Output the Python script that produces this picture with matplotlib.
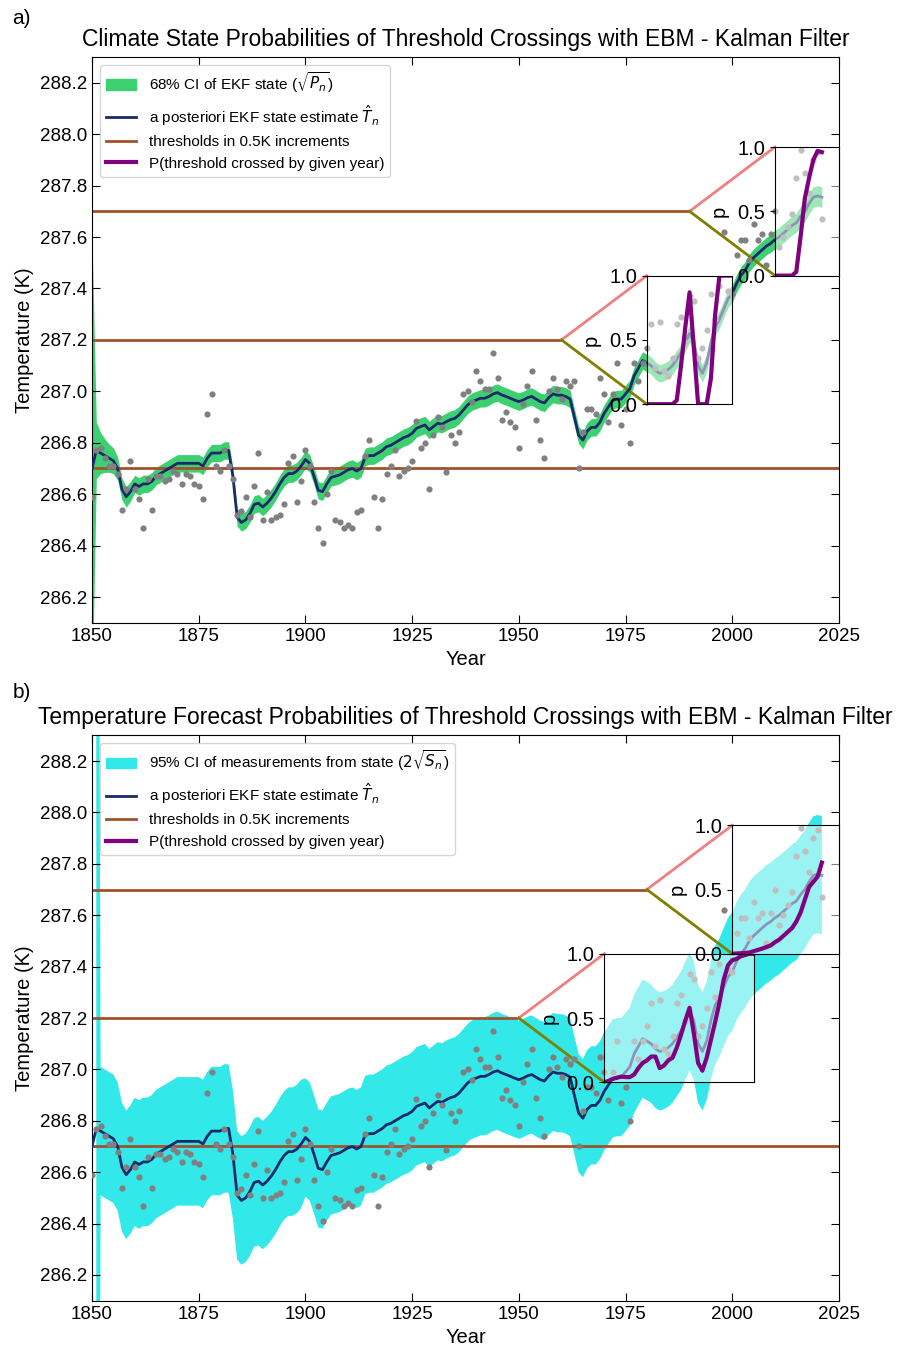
import numpy as np
import matplotlib.pyplot as plt
from matplotlib.patches import Patch
from matplotlib.lines import Line2D

plt.rcParams['font.family'] = ['Liberation Sans', 'DejaVu Sans']
plt.rcParams['mathtext.fontset'] = 'dejavusans'

# yearly global mean temperature (K), 1850-2021
years = np.arange(1850, 2022)
obs = [
    286.59, 286.77, 286.78, 286.74, 286.71, 286.71, 286.68, 286.54, 286.62, 286.73,
    286.62, 286.58, 286.47, 286.66, 286.54, 286.67, 286.67, 286.65, 286.66, 286.69,
    286.68, 286.64, 286.68, 286.67, 286.64, 286.63, 286.58, 286.91, 286.99, 286.71,
    286.69, 286.77, 286.71, 286.66, 286.52, 286.535, 286.59, 286.51, 286.63, 286.76,
    286.50, 286.61, 286.50, 286.51, 286.52, 286.56, 286.72, 286.75, 286.57, 286.65,
    286.77, 286.71, 286.57, 286.47, 286.41, 286.60, 286.69, 286.50, 286.49, 286.47,
    286.48, 286.47, 286.53, 286.54, 286.75, 286.81, 286.59, 286.47, 286.58, 286.68,
    286.71, 286.77, 286.67, 286.69, 286.70, 286.73, 286.885, 286.78, 286.80, 286.62,
    286.83, 286.90, 286.86, 286.685, 286.83, 286.80, 286.84, 286.99, 287.00, 286.96,
    287.08, 287.04, 287.01, 287.01, 287.15, 287.05, 286.89, 286.92, 286.88, 286.86,
    286.78, 286.95, 287.02, 287.08, 286.89, 286.81, 286.74, 287.00, 287.05, 287.01,
    286.97, 287.04, 287.02, 287.04, 286.70, 286.84, 286.93, 286.93, 286.91, 287.05,
    286.99, 286.88, 286.99, 287.11, 286.87, 286.93, 286.80, 287.11, 287.04, 287.11,
    287.17, 287.26, 287.09, 287.27, 287.08, 287.06, 287.13, 287.26, 287.29, 287.19,
    287.37, 287.35, 287.13, 287.17, 287.24, 287.38, 287.28, 287.41, 287.62, 287.39,
    287.38, 287.53, 287.59, 287.59, 287.51, 287.65, 287.59, 287.61, 287.49, 287.61,
    287.70, 287.56, 287.60, 287.64, 287.69, 287.83, 287.94, 287.85, 287.77, 287.90,
    287.93, 287.67,
]

# a posteriori EKF state estimate
state = [
    286.70, 286.77, 286.76, 286.75, 286.74, 286.73, 286.70, 286.62, 286.59, 286.61,
    286.64, 286.63, 286.64, 286.64, 286.65, 286.67, 286.68, 286.69, 286.70, 286.71,
    286.72, 286.72, 286.72, 286.72, 286.72, 286.72, 286.71, 286.74, 286.76, 286.76,
    286.76, 286.77, 286.77, 286.67, 286.51, 286.49, 286.50, 286.525, 286.56, 286.565,
    286.55, 286.565, 286.585, 286.61, 286.64, 286.665, 286.68, 286.68, 286.69, 286.71,
    286.735, 286.72, 286.67, 286.615, 286.61, 286.64, 286.665, 286.67, 286.675, 286.685,
    286.695, 286.70, 286.69, 286.70, 286.745, 286.75, 286.75, 286.76, 286.77, 286.785,
    286.79, 286.80, 286.81, 286.82, 286.826, 286.837, 286.856, 286.863, 286.869, 286.85,
    286.863, 286.876, 286.872, 286.882, 286.89, 286.895, 286.908, 286.928, 286.947, 286.96,
    286.966, 286.973, 286.973, 286.98, 286.99, 286.995, 286.986, 286.98, 286.973, 286.966,
    286.96, 286.966, 286.975, 286.98, 286.97, 286.96, 286.955, 286.975, 286.99, 286.985,
    286.985, 286.98, 286.97, 286.90, 286.83, 286.81, 286.845, 286.86, 286.86, 286.88,
    286.915, 286.94, 286.965, 286.97, 286.97, 286.99, 287.01, 287.06, 287.09, 287.12,
    287.11, 287.10, 287.08, 287.07, 287.075, 287.085, 287.10, 287.125, 287.15, 287.19,
    287.225, 287.19, 287.10, 287.07, 287.11, 287.19, 287.25, 287.28, 287.32, 287.36,
    287.38, 287.42, 287.45, 287.47, 287.50, 287.52, 287.535, 287.55, 287.565, 287.575,
    287.59, 287.60, 287.615, 287.63, 287.645, 287.655, 287.68, 287.70, 287.73, 287.755,
    287.76, 287.755,
]

# sqrt(P_n): 1-sigma of the state
sd_state = ([0.90, 0.11, 0.08, 0.065, 0.055, 0.05, 0.045, 0.042, 0.04, 0.038]
            + [0.034] * 150 + [0.037] * 6 + [0.040] * 6)

# 2*sqrt(S_n): 95% of the measurement forecast (no forecast for the first year)
ci_meas = [np.nan, 6.0] + [0.25] * 48 + [0.23] * 122

thresholds = [286.7, 287.2, 287.7]

# P(threshold crossed by given year) per panel: (threshold, years, probabilities)
p_state = [
    (287.2, np.arange(1980, 2001),
     [0, 0, 0, 0, 0, 0, 0, 0.03, 0.30, 0.60, 0.87, 0.44, 0.0, 0.0, 0.0, 0.20, 0.70, 1.0, 1.0, 1.0, 1.0]),
    (287.7, np.arange(2010, 2022),
     [0, 0, 0, 0, 0, 0.03, 0.30, 0.60, 0.76, 0.90, 0.97, 0.96]),
]
p_meas = [
    (287.2, np.arange(1970, 2006),
     [0.0, 0.01, 0.026, 0.035, 0.044, 0.04, 0.04, 0.06, 0.11, 0.15, 0.17, 0.20, 0.20, 0.11,
      0.13, 0.17, 0.19, 0.27, 0.37, 0.48, 0.58, 0.38, 0.15, 0.09, 0.19, 0.33, 0.47, 0.62,
      0.80, 0.91, 0.95, 0.96, 0.98, 0.99, 1.0, 1.0]),
    (287.7, np.arange(2000, 2022),
     [0.0, 0.002, 0.004, 0.006, 0.01, 0.02, 0.03, 0.04, 0.052, 0.065, 0.09, 0.11, 0.14,
      0.17, 0.20, 0.25, 0.32, 0.42, 0.52, 0.56, 0.60, 0.71]),
]

# where each threshold line stops and where its inset sits (start, end year)
layout_a = {287.2: (1960, 1980, 2000), 287.7: (1990, 2010, 2025)}
layout_b = {287.2: (1950, 1970, 2005), 287.7: (1980, 2000, 2025)}

obs = np.array(obs)
state = np.array(state)
sd_state = np.array(sd_state)
ci_meas = np.array(ci_meas)

fig = plt.figure(figsize=(8.97, 13.48), dpi=100)
ax_a = fig.add_axes([0.1026, 0.538, 0.8327, 0.4197])
ax_b = fig.add_axes([0.1026, 0.0351, 0.8327, 0.4194])


def draw_panel(ax, lo, hi, band_color, band_label, layout, probs, title):
    ax.fill_between(years, lo, hi, color=band_color, lw=0, zorder=1)
    ax.plot(years, state, color='#1b2a6b', lw=2, zorder=3)
    ax.scatter(years, obs, s=20, color='gray', zorder=4, linewidths=0)

    for thr in thresholds:
        if thr in layout:
            x_from, x0, x1 = layout[thr]
        else:
            x_from = 2025
        ax.plot([1850, x_from], [thr, thr], color='sienna', lw=2, zorder=2)

    for thr, py, pv in probs:
        x_from, x0, x1 = layout[thr]
        ax.plot([x_from, x0], [thr, thr + 0.25], color='lightcoral', lw=2, zorder=2)
        ax.plot([x_from, x0], [thr, thr - 0.25], color='olive', lw=2, zorder=2)
        ins = ax.inset_axes([x0, thr - 0.25, x1 - x0, 0.5], transform=ax.transData)
        ins.set_facecolor((1, 1, 1, 0.5))
        ins.plot(py, pv, color='purple', lw=3)
        ins.set_xlim(x0, x1)
        ins.set_ylim(0, 1)
        ins.set_xticks([])
        ins.set_yticks([0, 0.5, 1.0])
        ins.set_yticklabels(['0.0', '0.5', '1.0'])
        ins.tick_params(labelsize=14.5)
        ins.set_ylabel('p', fontsize=14.5, labelpad=6)

    ax.set_xlim(1850, 2025)
    ax.set_ylim(286.1, 288.3)
    ax.set_xticks(np.arange(1850, 2026, 25))
    ax.set_yticks(np.arange(286.2, 288.21, 0.2))
    ax.set_yticklabels([f'{v:.1f}' for v in np.arange(286.2, 288.21, 0.2)])
    ax.tick_params(direction='in', top=True, right=True, labelsize=13.5, length=6)
    ax.set_xlabel('Year', fontsize=14.5)
    ax.set_ylabel('Temperature (K)', fontsize=14.5)
    ax.set_title(title, fontsize=16.5, pad=8)

    handles = [
        Patch(color=band_color, label=band_label),
        Line2D([], [], color='#1b2a6b', lw=2, label=r'a posteriori EKF state estimate $\hat{T}_n$'),
        Line2D([], [], color='sienna', lw=2, label='thresholds in 0.5K increments'),
        Line2D([], [], color='purple', lw=3, label='P(threshold crossed by given year)'),
    ]
    ax.legend(handles=handles, loc='upper left', fontsize=11)


draw_panel(ax_a, state - sd_state, state + sd_state, '#3dd070',
           r'68% CI of EKF state ($\sqrt{P_n}$)', layout_a, p_state,
           'Climate State Probabilities of Threshold Crossings with EBM - Kalman Filter')
draw_panel(ax_b, state - ci_meas, state + ci_meas, '#33e8e8',
           r'95% CI of measurements from state ($2\sqrt{S_n}$)', layout_b, p_meas,
           'Temperature Forecast Probabilities of Threshold Crossings with EBM - Kalman Filter')

fig.text(0.014, 0.986, 'a)', fontsize=15, va='center')
fig.text(0.014, 0.486, 'b)', fontsize=15, va='center')

fig.savefig('out.png', dpi=100)
